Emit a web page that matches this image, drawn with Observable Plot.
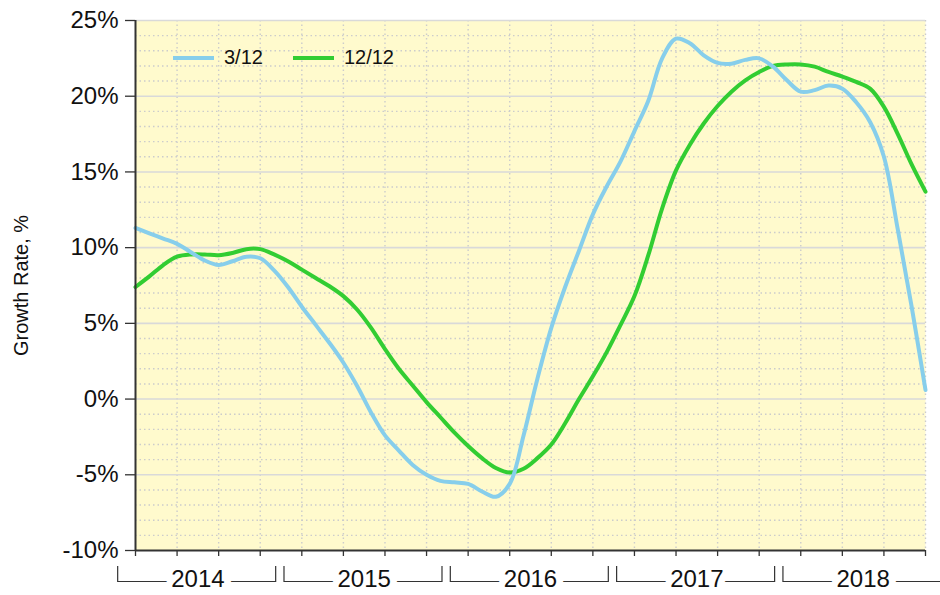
<!DOCTYPE html>
<html>
<head>
<meta charset="utf-8">
<script src="https://cdn.jsdelivr.net/npm/d3@7"></script>
<script src="https://cdn.jsdelivr.net/npm/@observablehq/plot@0.6"></script>
<style>
  body { margin: 0; background: #fff; font-family: "Liberation Sans", Arial, sans-serif; }
  #wrap { position: relative; width: 940px; height: 595px; }
  #legend { position: absolute; left: 173px; top: 46px; display: flex; align-items: center; font-size: 20px; color: #111; }
  #legend .item { display: flex; align-items: center; margin-right: 30px; }
  #legend .sw { width: 41px; height: 4px; margin-right: 10px; }
</style>
</head>
<body>
<div id="wrap"><div id="legend"></div></div>
<script>
// ---- data ----
const seriesNames = ["3/12", "12/12"];
const seriesColors = ["#87CEEB", "#32CD32"];
const years = [2014, 2015, 2016, 2017, 2018];
const yTicks = [-10, -5, 0, 5, 10, 15, 20, 25];
const yLabel = "Growth Rate, %";

// monthly values, Jan 2014 .. Oct 2018
const s3_12 = [
  11.3, 10.95, 10.6, 10.25, 9.7, 9.15, 8.85, 9.1, 9.4, 9.3,
  8.5, 7.4, 6.1, 4.9, 3.7, 2.4, 0.85, -0.9, -2.4, -3.4,
  -4.35, -5.0, -5.4, -5.5, -5.6, -6.1, -6.45, -5.6, -2.4, 1.35,
  4.7, 7.4, 9.8, 12.2, 14.05, 15.7, 17.7, 19.7, 22.5, 23.8,
  23.5, 22.7, 22.2, 22.15, 22.4, 22.5, 21.95, 21.05, 20.3, 20.4,
  20.7, 20.5, 19.6, 18.3, 16.0, 11.2, 6.1, 0.6
];
const s12_12 = [
  7.4, 8.1, 8.85, 9.4, 9.55, 9.55, 9.5, 9.65, 9.9, 9.9,
  9.55, 9.1, 8.55, 8.0, 7.45, 6.8, 5.9, 4.7, 3.3, 2.0,
  0.9, -0.2, -1.2, -2.2, -3.1, -3.9, -4.55, -4.85, -4.6, -3.9,
  -3.0, -1.6, 0.0, 1.5, 3.1, 4.9, 6.8, 9.5, 12.6, 15.1,
  16.8, 18.2, 19.35, 20.3, 21.05, 21.6, 22.0, 22.1, 22.1, 21.95,
  21.6, 21.3, 20.95, 20.5, 19.3, 17.5, 15.5, 13.7
];

// month index since Jan of first year
const months = s3_12.map((_, i) => i);
const rows = (vals, name) => vals.map((v, i) => ({ m: months[i], v, series: name }));
const dataBlue = rows(s3_12, seriesNames[0]);
const dataGreen = rows(s12_12, seriesNames[1]);

const quarterTicks = months.filter(m => m % 3 === 0);
const minorY = d3.range(yTicks[0], yTicks[yTicks.length - 1] + 1).filter(v => v % 5 !== 0);
const majorY = yTicks.filter(v => v !== yTicks[0]);
const yearMid = y => (y - years[0]) * 12 + 4.5;

// year brackets below the axis, drawn through the x scale
function brackets(index, scales, values, dims) {
  const g = d3.create("svg:g").attr("fill", "none").attr("stroke", "#333").attr("stroke-width", 1.2);
  const yb = dims.height - dims.marginBottom;
  for (const yr of years) {
    const base = (yr - years[0]) * 12;
    const x0 = scales.x(base - 1.25), x1 = scales.x(base + 10.15);
    g.append("path").attr("d", `M${x0},${yb + 16}V${yb + 31.5}H${x1}V${yb + 16}`);
  }
  return g.node();
}

const chart = Plot.plot({
  width: 940,
  height: 595,
  marginLeft: 135,
  marginRight: 15,
  marginTop: 20,
  marginBottom: 45,
  style: { fontFamily: "Liberation Sans, Arial, sans-serif", background: "transparent", color: "#111", overflow: "visible" },
  x: { domain: [months[0], months[months.length - 1]], axis: null },
  y: { domain: [yTicks[0], yTicks[yTicks.length - 1]], axis: null },
  color: { domain: seriesNames, range: seriesColors },
  marks: [
    Plot.frame({ fill: "#FFFACD", stroke: "none" }),
    Plot.ruleY(minorY, { stroke: "#cccccc", strokeWidth: 1.4, strokeDasharray: "1.5,3" }),
    Plot.ruleX(quarterTicks.filter(m => m !== 0), { stroke: "#cccccc", strokeWidth: 1.4, strokeDasharray: "1.5,3" }),
    Plot.ruleY(majorY, { stroke: "#d9d9d9", strokeWidth: 1.6 }),
    Plot.line(dataGreen, { x: "m", y: "v", stroke: "series", strokeWidth: 4, curve: "catmull-rom" }),
    Plot.line(dataBlue, { x: "m", y: "v", stroke: "series", strokeWidth: 4, curve: "catmull-rom" }),
    Plot.ruleX([months[0]], { stroke: "#333", strokeWidth: 2 }),
    Plot.ruleY([yTicks[0]], { stroke: "#333", strokeWidth: 2 }),
    Plot.axisY({ ticks: yTicks, tickFormat: d => d + "%", tickSize: 10, tickPadding: 7, fontSize: 24, stroke: "#333", strokeWidth: 1.3, label: null, fill: "#111" }),
    Plot.axisX({ ticks: quarterTicks, tickSize: 6, tickFormat: () => "", stroke: "#333", strokeWidth: 1.3, label: null }),
    brackets,
    Plot.text(years, { x: yearMid, frameAnchor: "bottom", lineAnchor: "middle", dy: 29, text: d => String(d), fontSize: 24, fill: "#111", stroke: "white", strokeWidth: 14 }),
    Plot.text([yLabel], { frameAnchor: "left", textAnchor: "middle", lineAnchor: "middle", dx: -114, rotate: -90, fontSize: 20, fill: "#111" })
  ]
});

document.getElementById("wrap").appendChild(chart);

// legend
const legend = document.getElementById("legend");
seriesNames.forEach((name, i) => {
  const item = document.createElement("div");
  item.className = "item";
  item.innerHTML = `<div class="sw" style="background:${seriesColors[i]}"></div><span>${name}</span>`;
  legend.appendChild(item);
});
</script>
</body>
</html>
